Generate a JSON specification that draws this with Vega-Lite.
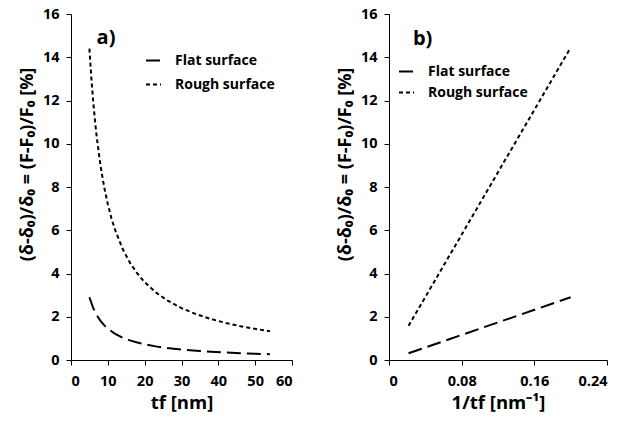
{
  "$schema": "https://vega.github.io/schema/vega-lite/v6.json",
  "background": "white",
  "padding": {"left": 18, "top": 6, "right": 0, "bottom": 0},
  "spacing": 43,
  "config": {
    "font": "Open Sans",
    "view": {"stroke": null},
    "axis": {
      "grid": false,
      "domainColor": "#000",
      "tickColor": "#000",
      "domainWidth": 1,
      "tickSize": 5,
      "labelFont": "Open Sans",
      "labelFontSize": 14.5,
      "labelFontWeight": "bold",
      "labelColor": "#000",
      "labelOverlap": false,
      "titleFont": "Open Sans",
      "titleFontWeight": "bold",
      "titleColor": "#000"
    },
    "axisX": {"labelPadding": 9, "titlePadding": 6, "titleFontSize": 18.5},
    "axisY": {"labelPadding": 7, "titlePadding": 6, "titleFontSize": 18, "titleY": 150},
    "legend": {
      "labelFont": "Open Sans",
      "labelFontSize": 14,
      "labelFontWeight": "bold",
      "labelColor": "#000"
    }
  },
  "datasets": {
    "a": [
      {"t": 5, "v": 2.9, "s": "Flat surface"},
      {"t": 6, "v": 2.417, "s": "Flat surface"},
      {"t": 7, "v": 2.071, "s": "Flat surface"},
      {"t": 8, "v": 1.813, "s": "Flat surface"},
      {"t": 9, "v": 1.611, "s": "Flat surface"},
      {"t": 10, "v": 1.45, "s": "Flat surface"},
      {"t": 12, "v": 1.208, "s": "Flat surface"},
      {"t": 14, "v": 1.036, "s": "Flat surface"},
      {"t": 16, "v": 0.906, "s": "Flat surface"},
      {"t": 18, "v": 0.806, "s": "Flat surface"},
      {"t": 20, "v": 0.725, "s": "Flat surface"},
      {"t": 23, "v": 0.63, "s": "Flat surface"},
      {"t": 26, "v": 0.558, "s": "Flat surface"},
      {"t": 30, "v": 0.483, "s": "Flat surface"},
      {"t": 34, "v": 0.426, "s": "Flat surface"},
      {"t": 38, "v": 0.382, "s": "Flat surface"},
      {"t": 42, "v": 0.345, "s": "Flat surface"},
      {"t": 46, "v": 0.315, "s": "Flat surface"},
      {"t": 50, "v": 0.29, "s": "Flat surface"},
      {"t": 54, "v": 0.269, "s": "Flat surface"},
      {"t": 5, "v": 14.4, "s": "Rough surface"},
      {"t": 5.5, "v": 13.09, "s": "Rough surface"},
      {"t": 6, "v": 12.0, "s": "Rough surface"},
      {"t": 6.5, "v": 11.08, "s": "Rough surface"},
      {"t": 7, "v": 10.29, "s": "Rough surface"},
      {"t": 8, "v": 9.0, "s": "Rough surface"},
      {"t": 9, "v": 8.0, "s": "Rough surface"},
      {"t": 10, "v": 7.2, "s": "Rough surface"},
      {"t": 11, "v": 6.545, "s": "Rough surface"},
      {"t": 12, "v": 6.0, "s": "Rough surface"},
      {"t": 14, "v": 5.143, "s": "Rough surface"},
      {"t": 16, "v": 4.5, "s": "Rough surface"},
      {"t": 18, "v": 4.0, "s": "Rough surface"},
      {"t": 20, "v": 3.6, "s": "Rough surface"},
      {"t": 23, "v": 3.13, "s": "Rough surface"},
      {"t": 26, "v": 2.769, "s": "Rough surface"},
      {"t": 30, "v": 2.4, "s": "Rough surface"},
      {"t": 34, "v": 2.118, "s": "Rough surface"},
      {"t": 38, "v": 1.895, "s": "Rough surface"},
      {"t": 42, "v": 1.714, "s": "Rough surface"},
      {"t": 46, "v": 1.565, "s": "Rough surface"},
      {"t": 50, "v": 1.44, "s": "Rough surface"},
      {"t": 54, "v": 1.333, "s": "Rough surface"}
    ],
    "b": [
      {"x": 0.0215, "v": 0.31, "s": "Flat surface"},
      {"x": 0.2, "v": 2.9, "s": "Flat surface"},
      {"x": 0.0215, "v": 1.58, "s": "Rough surface"},
      {"x": 0.2, "v": 14.45, "s": "Rough surface"}
    ],
    "labA": [{"t": 9.5, "v": 14.9, "label": "a)"}],
    "labB": [{"x": 0.037, "v": 14.85, "label": "b)"}]
  },
  "resolve": {
    "scale": {"strokeDash": "independent"},
    "legend": {"strokeDash": "independent"}
  },
  "hconcat": [
    {
      "width": 221,
      "height": 346,
      "encoding": {
        "x": {
          "field": "t", "type": "quantitative",
          "scale": {"domain": [0, 60], "nice": false},
          "axis": {"values": [0, 10, 20, 30, 40, 50, 60], "title": "tf [nm]"}
        },
        "y": {
          "field": "v", "type": "quantitative",
          "scale": {"domain": [0, 16], "nice": false},
          "axis": {"values": [0, 2, 4, 6, 8, 10, 12, 14, 16], "title": "(δ-δ₀)/δ₀ = (F-F₀)/F₀  [%]"}
        }
      },
      "layer": [
        {
          "data": {"name": "a"},
          "mark": {"type": "line", "color": "#000", "strokeWidth": 2},
          "encoding": {
            "strokeDash": {
              "field": "s", "type": "nominal",
              "scale": {"domain": ["Flat surface", "Rough surface"], "range": [[14, 6], [4, 3]]},
              "legend": {
                "title": null, "orient": "none", "legendX": 74, "legendY": 38,
                "symbolType": "stroke", "symbolSize": 225, "symbolStrokeWidth": 2,
                "symbolStrokeColor": "#000", "rowPadding": 8, "labelOffset": 13
              }
            }
          }
        },
        {
          "data": {"name": "labA"},
          "mark": {"type": "text", "fontSize": 20, "fontWeight": "bold", "color": "#000", "font": "Open Sans"},
          "encoding": {
            "text": {"field": "label"}
          }
        }
      ]
    },
    {
      "width": 218,
      "height": 346,
      "encoding": {
        "x": {
          "field": "x", "type": "quantitative",
          "scale": {"domain": [0, 0.24], "nice": false},
          "axis": {"values": [0, 0.08, 0.16, 0.24], "labelExpr": "datum.value == 0 ? '0' : format(datum.value, '.2f')", "title": "1/tf [nm⁻¹]"}
        },
        "y": {
          "field": "v", "type": "quantitative",
          "scale": {"domain": [0, 16], "nice": false},
          "axis": {"values": [0, 2, 4, 6, 8, 10, 12, 14, 16], "title": "(δ-δ₀)/δ₀ = (F-F₀)/F₀  [%]"}
        }
      },
      "layer": [
        {
          "data": {"name": "b"},
          "mark": {"type": "line", "color": "#000", "strokeWidth": 2},
          "encoding": {
            "strokeDash": {
              "field": "s", "type": "nominal",
              "scale": {"domain": ["Flat surface", "Rough surface"], "range": [[14, 6], [4, 3]]},
              "legend": {
                "title": null, "orient": "none", "legendX": 9, "legendY": 49,
                "symbolType": "stroke", "symbolSize": 225, "symbolStrokeWidth": 2,
                "symbolStrokeColor": "#000", "rowPadding": 5, "labelOffset": 13
              }
            }
          }
        },
        {
          "data": {"name": "labB"},
          "mark": {"type": "text", "fontSize": 20, "fontWeight": "bold", "color": "#000", "font": "Open Sans"},
          "encoding": {
            "text": {"field": "label"}
          }
        }
      ]
    }
  ]
}
